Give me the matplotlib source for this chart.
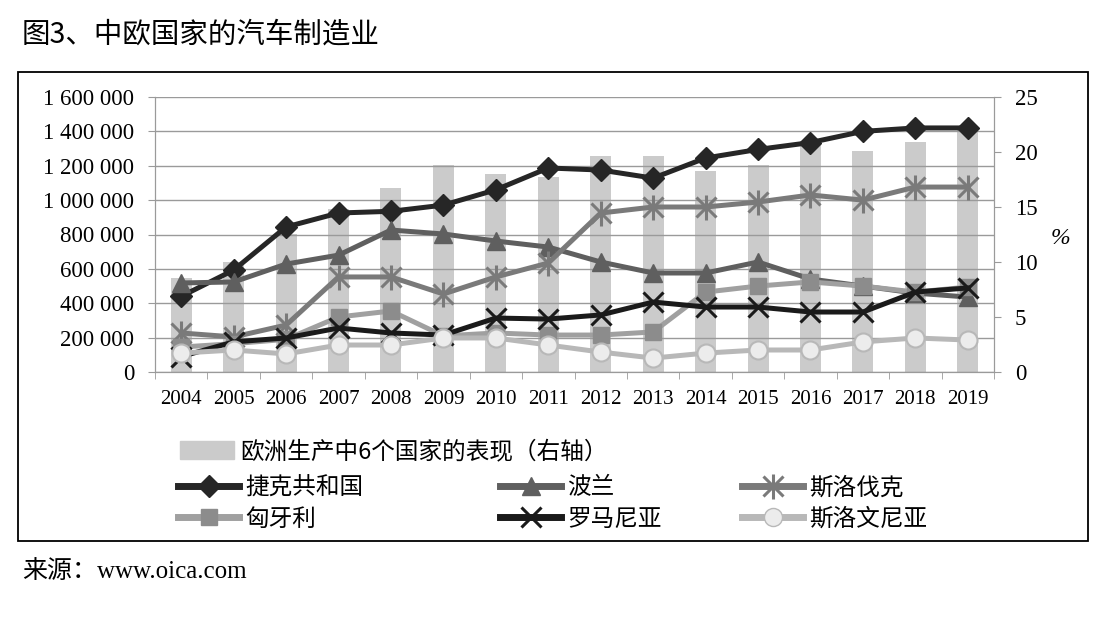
import matplotlib
matplotlib.use('Agg')
import matplotlib.pyplot as plt
import numpy as np
from matplotlib.patches import Rectangle, Patch
from matplotlib.lines import Line2D
from matplotlib.ticker import FuncFormatter

plt.rcParams['font.family'] = ['Liberation Serif', 'Noto Sans CJK SC', 'DejaVu Sans']

years = [str(y) for y in range(2004, 2020)]
share_pct = [8.5, 10.0, 12.5, 14.8, 16.7, 18.8, 18.0, 17.7, 19.6, 19.6, 18.3, 18.8, 20.6, 20.1, 20.9, 22.0]

czech = [440000, 593000, 844000, 925000, 935000, 971000, 1060000, 1187000,
         1175000, 1128000, 1245000, 1295000, 1335000, 1400000, 1420000, 1420000]
poland = [518000, 524000, 628000, 680000, 826000, 803000, 762000, 727000,
          640000, 576000, 576000, 640000, 541000, 500000, 459000, 436000]
slovakia = [227000, 204000, 273000, 553000, 553000, 454000, 553000, 634000,
            925000, 960000, 960000, 989000, 1030000, 1000000, 1076000, 1076000]
hungary = [145000, 165000, 190000, 320000, 355000, 210000, 227000, 215000,
           215000, 233000, 465000, 500000, 524000, 500000, 465000, 494000]
romania = [90000, 175000, 198000, 256000, 227000, 215000, 314000, 308000,
           332000, 407000, 378000, 378000, 349000, 349000, 465000, 489000]
slovenia = [110000, 128000, 105000, 157000, 157000, 198000, 198000, 157000,
            116000, 81000, 110000, 128000, 128000, 175000, 198000, 186000]

bar_label = '欧洲生产中6个国家的表现（右轴）'
names = ['捷克共和国', '波兰', '斯洛伐克', '匈牙利', '罗马尼亚', '斯洛文尼亚']

W, H = 1104, 618
fig = plt.figure(figsize=(W / 100, H / 100), dpi=100)
ax = fig.add_axes([155 / W, 1 - 372 / H, (994 - 155) / W, (372 - 97) / H])
ax2 = ax.twinx()
ax.set_zorder(ax2.get_zorder() + 1)
ax.patch.set_visible(False)

x = np.arange(len(years))
grid_c = '#9a9a9a'

ax2.bar(x, share_pct, width=0.4, color='#cbcbcb', zorder=1)
ax2.set_ylim(0, 25)
ax2.set_yticks(range(0, 26, 5))

lw = 3.6
ax.plot(x, czech, color='#262626', lw=lw, marker='D', ms=11, zorder=3)
ax.plot(x, poland, color='#5f5f5f', lw=lw, marker='^', ms=13, zorder=4)
ax.plot(x, slovakia, color='#7a7a7a', lw=lw, marker='x', ms=14, mew=2.2, zorder=5)
ax.plot(x, slovakia, color='#7a7a7a', ls='none', marker='|', ms=18, mew=2.2, zorder=5)
ax.plot(x, hungary, color='#a0a0a0', lw=lw, marker='s', ms=12,
        mfc='#8c8c8c', mec='#8c8c8c', zorder=6)
ax.plot(x, romania, color='#1a1a1a', lw=lw, marker='x', ms=15, mew=2.2, zorder=7)
ax.plot(x, slovenia, color='#b8b8b8', lw=lw, marker='o', ms=13,
        mfc='#ececec', mec='#b8b8b8', mew=1.5, zorder=8)

ax.set_xlim(-0.5, len(years) - 0.5)
ax.set_ylim(0, 1600000)
ax.set_yticks(range(0, 1600001, 200000))
ax.yaxis.set_major_formatter(FuncFormatter(lambda v, p: f'{int(v):,}'.replace(',', ' ')))
ax.grid(axis='y', color=grid_c, lw=1)
ax.set_axisbelow(True)
ax.set_xticks(x)
ax.set_xticklabels(years)
ax.set_xticks(np.arange(-0.5, len(years), 1), minor=True)
ax.tick_params(axis='x', which='major', length=0, pad=13, labelsize=15)
ax.tick_params(axis='x', which='minor', length=5, color=grid_c)
ax.tick_params(axis='y', length=5, color=grid_c, pad=10, labelsize=16.5)
ax2.tick_params(axis='y', length=5, color=grid_c, pad=10, labelsize=16.5)

for a in (ax, ax2):
    for s in a.spines.values():
        s.set_color(grid_c)
    a.spines['top'].set_visible(False)

fig.text(1060 / W, 1 - 238 / H, '%', fontsize=17, ha='center', va='center', style='italic')

fig.text(22 / W, 1 - 35 / H, '图3、中欧国家的汽车制造业', fontsize=20.5, ha='left', va='center',
         family=['Noto Sans CJK SC', 'DejaVu Sans'])
fig.text(22 / W, 1 - 572 / H, '来源：www.oica.com', fontsize=18, ha='left', va='center')

fig.patches.append(Rectangle((18 / W, 1 - 541 / H), (1088 - 18) / W, (541 - 72) / H,
                             transform=fig.transFigure, fill=False, lw=1.3, ec='black'))


def put_legend(handle, label, px, py, **kw):
    lg = fig.legend([handle], [label], loc='center left',
                    bbox_to_anchor=(px / W, 1 - py / H), frameon=False,
                    borderpad=0, borderaxespad=0, handletextpad=0.25,
                    prop={'family': ['Noto Sans CJK SC', 'DejaVu Sans'], 'size': 17}, **kw)
    return lg


put_legend(Patch(color='#cbcbcb'), bar_label, 180, 452, handlelength=2.3, handleheight=0.8)

leg_handles = [
    Line2D([], [], color='#262626', lw=5, marker='D', ms=11),
    Line2D([], [], color='#5f5f5f', lw=5, marker='^', ms=13),
    (Line2D([], [], color='#7a7a7a', lw=5, marker='x', ms=14, mew=2.2),
     Line2D([], [], color='#7a7a7a', ls='none', marker='|', ms=18, mew=2.2)),
    Line2D([], [], color='#a0a0a0', lw=5, marker='s', ms=12, mfc='#8c8c8c', mec='#8c8c8c'),
    Line2D([], [], color='#1a1a1a', lw=5, marker='x', ms=15, mew=2.2),
    Line2D([], [], color='#b8b8b8', lw=5, marker='o', ms=13, mfc='#ececec', mec='#b8b8b8'),
]
spots = [(178, 488), (500, 488), (742, 488), (178, 519), (500, 519), (742, 519)]
for hnd, name, (px, py) in zip(leg_handles, names, spots):
    put_legend(hnd, name, px, py, handlelength=2.6)

fig.savefig('out.png', dpi=100)
